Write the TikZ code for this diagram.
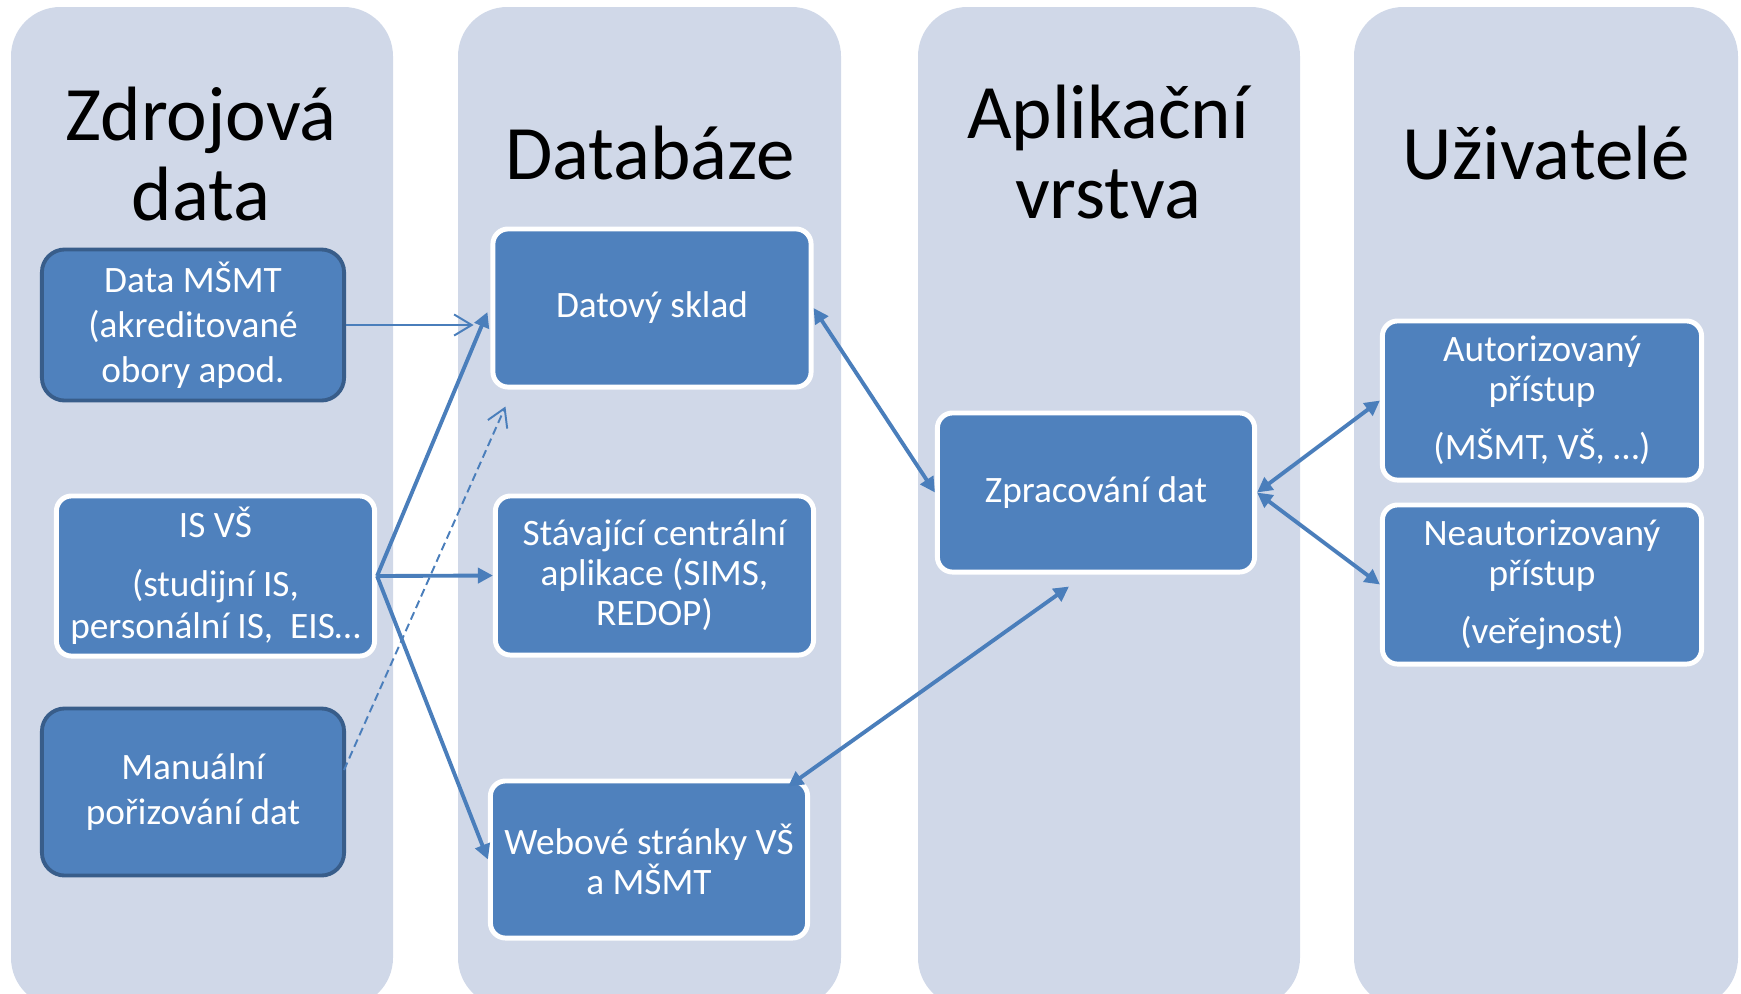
\documentclass[tikz,border=0pt]{standalone}
\usepackage{fontspec}
\setmainfont{Carlito}
\usetikzlibrary{positioning}
\usetikzlibrary{calc}
\usetikzlibrary{arrows.meta}

\definecolor{colbg}{HTML}{D0D8E8}
\definecolor{boxblue}{HTML}{4F81BD}
\definecolor{boxdark}{HTML}{385D8A}
\definecolor{arrblue}{HTML}{4A7EBB}

\begin{document}
\begin{tikzpicture} [x=0.01cm, y=-0.01cm,
            column/.style={fill=colbg, rounded corners=14pt},
            heading/.style={font=\fontsize{21.9}{22.8}\selectfont, align=center},
            srcbox/.style={draw=boxdark, line width=1.1pt, fill=boxblue, rounded corners=6.5pt,
               text=white, align=center, inner sep=0pt, font=\fontsize{10.6}{12.8}\selectfont},
            dbbox/.style={draw=white, line width=1.4pt, fill=boxblue, rounded corners=4.3pt,
               text=white, align=center, inner sep=0pt, font=\fontsize{10.6}{11.4}\selectfont},
            feed/.style={-{Triangle[length=4.3pt,width=4.3pt]}, arrblue, line width=1.1pt},
            link/.style={{Triangle[length=4.3pt,width=4.3pt]}-{Triangle[length=4.3pt,width=4.3pt]}, arrblue, line width=1.1pt},
            feedthin/.style={-{Straight Barb[length=5pt,width=6pt]}, arrblue, line width=0.55pt}]

\useasboundingbox (0,0) rectangle (1741,993);

% columns
\path[column] (11,7) rectangle (393,1007);
\path[column] (458,7) rectangle (841,1007);
\path[column] (918,7) rectangle (1300,1007);
\path[column] (1354,7) rectangle (1738,1007);

%Z1
\node (hzdroj) at (201,154) [heading] {Zdrojová\\data};
\node (msmt) at (193,325) [srcbox, minimum width=3.02cm, minimum height=1.51cm]
   {Data MŠMT\\(akreditované\\obory apod.};
\node (isvs) at (215.5,576) [dbbox, minimum width=3.18cm, minimum height=1.6cm,
   font=\fontsize{10.6}{12}\selectfont]
   {IS VŠ\\[4.8pt](studijní IS,\\personální IS,~ EIS…};
\node (manual) at (193,792) [srcbox, minimum width=3.02cm, minimum height=1.67cm]
   {Manuální\\pořizování dat};

%D1
\node (hdb) at (650,153) [heading] {Databáze};
\node (sklad) at (652,308) [dbbox, minimum width=3.18cm, minimum height=1.58cm] {Datový sklad};
\node (stav) at (654.5,575.5) [dbbox, minimum width=3.18cm, minimum height=1.59cm]
   {Stávající centrální\\aplikace (SIMS,\\REDOP)};
\node (web) at (649,859.5) [dbbox, minimum width=3.17cm, minimum height=1.57cm]
   {Webové stránky VŠ\\a MŠMT};

%A1
\node (happ) at (1108,152) [heading] {Aplikační\\vrstva};
\node (zprac) at (1096,492.5) [dbbox, minimum width=3.17cm, minimum height=1.59cm] {Zpracování dat};

%U1
\node (huziv) at (1546,153) [heading] {Uživatelé};
\node (autor) at (1542,400.5) [dbbox, minimum width=3.19cm, minimum height=1.59cm]
   {Autorizovaný\\přístup\\[5.1pt](MŠMT, VŠ, …)};
\node (neaut) at (1542,584.5) [dbbox, minimum width=3.19cm, minimum height=1.59cm]
   {Neautorizovaný\\přístup\\[5.1pt](veřejnost)};

% connectors
\draw [feedthin, shorten >=4.8pt] (msmt.east) -- (msmt.east -| sklad.west);
\draw [feed] (isvs.east) -- ($(sklad.west)+(-3,4)$);
\draw [feed] (isvs.east) -- (stav.west);
\draw [feed] (isvs.east) -- (web.west);
\draw [feedthin, dash pattern=on 2.3pt off 1.3pt] ($(manual.east)+(-2,-22)$) -- ($(sklad.south west)+(15,17)$);
\draw [link] (sklad.east) -- (zprac.west);
\draw [link] (zprac.east) -- (autor.west);
\draw [link] (zprac.east) -- (neaut.west);
\draw [link] ($(web.north east)+(-22,8)$) -- ($(zprac.south)+(-27,12)$);

\end{tikzpicture}
\end{document}
